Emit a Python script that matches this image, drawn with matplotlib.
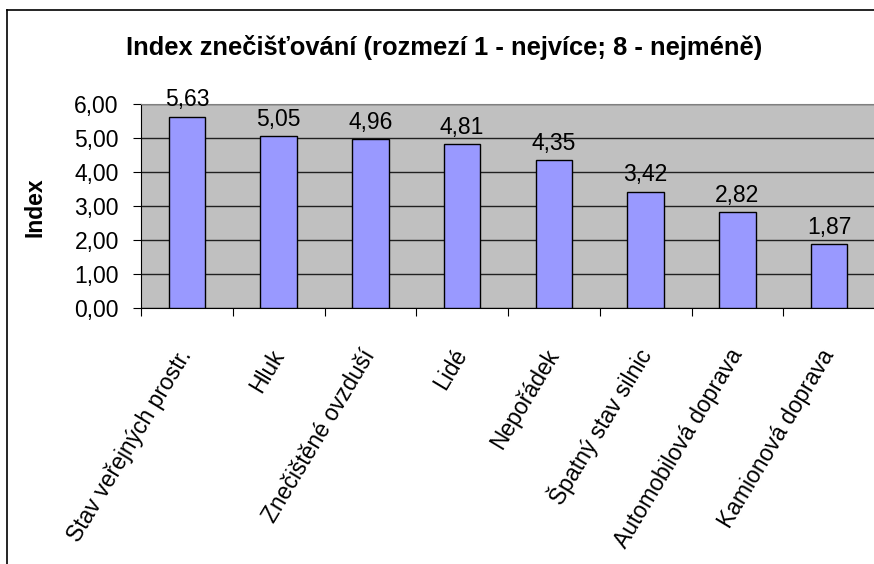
import numpy as np
import matplotlib
matplotlib.use('Agg')
import matplotlib.pyplot as plt
from matplotlib.lines import Line2D

plt.rcParams['font.family'] = ['Liberation Sans', 'DejaVu Sans']

# Data
categories = ['Stav veřejných prostr.', 'Hluk', 'Znečištěné ovzduší', 'Lidé',
              'Nepořádek', 'Špatný stav silnic', 'Automobilová doprava',
              'Kamionová doprava']
values = [5.63, 5.05, 4.96, 4.81, 4.35, 3.42, 2.82, 1.87]
yticks = [0, 1, 2, 3, 4, 5, 6]

W, H = 874, 564
fig = plt.figure(figsize=(W / 100, H / 100), dpi=100)

# chart border (cropped on right and bottom)
fig.add_artist(Line2D([7 / W, 7 / W], [0, 1 - 10 / H], color='black', lw=1.2))
fig.add_artist(Line2D([7 / W, 1], [1 - 10 / H, 1 - 10 / H], color='black', lw=1.2))

ax = fig.add_axes([141 / W, 1 - 308 / H, (875 - 141) / W, (308 - 104) / H])
ax.set_facecolor('#C0C0C0')

x = np.arange(len(categories)) + 0.5
ax.bar(x, values, width=0.4, color='#9999FF', edgecolor='black', linewidth=1, zorder=3)

fs = 16.5
for xi, v in zip(x, values):
    ax.annotate(f'{v:.2f}'.replace('.', ','), (xi, v), xytext=(0, 4),
                textcoords='offset points', ha='center', va='bottom', fontsize=fs)

ax.set_xlim(0, len(categories))
ax.set_ylim(0, 6)
ax.set_yticks(yticks)
ax.set_yticklabels([f'{t:.2f}'.replace('.', ',') for t in yticks], fontsize=fs)
ax.yaxis.grid(True, color='#202020', lw=1, zorder=1)
ax.set_axisbelow(True)

ax.set_xticks(np.arange(len(categories) + 1))
ax.set_xticklabels([])
ax.set_xticks(x, minor=True)
ax.set_xticklabels(categories, minor=True, rotation=59, ha='right', va='center',
                   rotation_mode='anchor', fontsize=fs)
ax.tick_params(axis='x', which='minor', length=0, pad=31)
ax.tick_params(axis='x', which='major', length=6, direction='out', color='black')
ax.tick_params(axis='y', length=6, direction='out', pad=10, color='black')

for s in ['top', 'right']:
    ax.spines[s].set_color('#808080')
ax.spines['left'].set_color('black')
ax.spines['bottom'].set_color('black')

fig.text(35 / W, 1 - 207 / H, 'Index', rotation=90, ha='center', va='center',
         fontsize=16.5, fontweight='bold')
fig.text(444 / W, 1 - 48 / H, 'Index znečišťování (rozmezí 1 - nejvíce; 8 - nejméně)',
         ha='center', va='center', fontsize=18.4, fontweight='bold')

fig.savefig('out.png', dpi=100)
